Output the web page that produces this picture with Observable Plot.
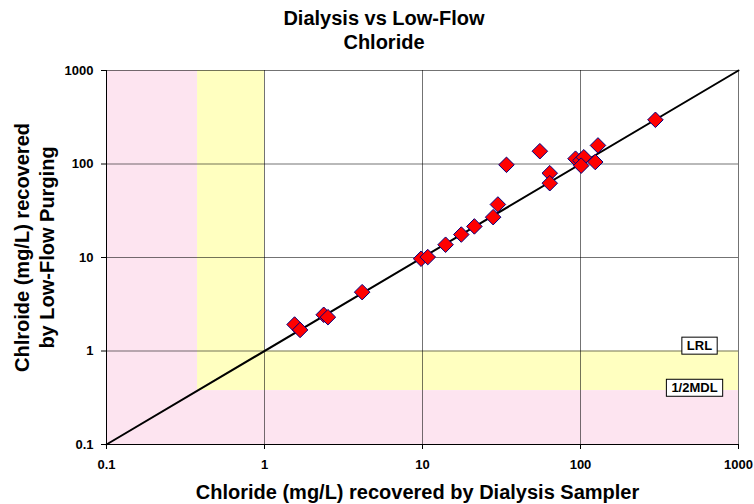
<!DOCTYPE html>
<html>
<head>
<meta charset="utf-8">
<script src="https://cdn.jsdelivr.net/npm/d3@7"></script>
<script src="https://cdn.jsdelivr.net/npm/@observablehq/plot@0.6"></script>
<style>
  body { margin: 0; background: #fff; font-family: "Liberation Sans", Arial, sans-serif; }
  #title { width: 754px; box-sizing: border-box; padding: 6px 0 4px 14px; height: 58px;
           text-align: center; font-weight: bold; font-size: 20px; line-height: 24px; color: #000; }
  #chart svg g[aria-label*="axis"] text { font-size: 13px; font-weight: bold; font-family: "Liberation Sans", Arial, sans-serif; }
</style>
</head>
<body>
<div id="title">Dialysis vs Low-Flow<br>Chloride</div>
<div id="chart"></div>
<script>
// ---- data ----
const dialysis = [1.55, 1.68, 2.37, 2.52, 4.15, 9.8, 10.8, 14.0, 17.6, 21.3, 28.0, 30.0, 34.0, 55.3, 63.9, 63.9, 93, 100, 105, 101, 124, 129, 298];
const lowFlow  = [1.92, 1.68, 2.44, 2.30, 4.26, 9.7, 10.1, 13.7, 17.6, 21.5, 27.0, 36.9, 98, 137, 79.7, 62.3, 114, 109, 118, 96, 105, 158, 297];
const tickValues = [0.1, 1, 10, 100, 1000];
const thresholdNames = ["LRL", "1/2MDL"];
const thresholdValues = [1, 0.377];
const xTitle = "Chloride (mg/L) recovered by Dialysis Sampler";
const yTitle = "Chlroide (mg/L) recovered\nby Low-Flow Purging";

const points = dialysis.map((d, i) => ({x: d, y: lowFlow[i]}));
const dmin = tickValues[0], dmax = tickValues[tickValues.length - 1];
const lrl = thresholdValues[0], half = thresholdValues[1];
const yellowBands = [
  {x1: half, x2: lrl, y1: half, y2: dmax},
  {x1: half, x2: dmax, y1: half, y2: lrl}
];
const pinkBands = [
  {x1: dmin, x2: half, y1: dmin, y2: dmax},
  {x1: dmin, x2: dmax, y1: dmin, y2: half}
];

const fmt = d => String(d);

const plot = Plot.plot({
  width: 754,
  height: 446,
  marginTop: 12,
  marginBottom: 60,
  marginLeft: 106,
  marginRight: 16,
  style: {fontFamily: '"Liberation Sans", Arial, sans-serif', fontSize: "13px", fontWeight: "bold", color: "#000", background: "#fff"},
  x: {type: "log", domain: [dmin, dmax], ticks: tickValues, tickFormat: fmt, tickSize: 5, tickPadding: 10, label: null},
  y: {type: "log", domain: [dmin, dmax], ticks: tickValues, tickFormat: fmt, tickSize: 5, tickPadding: 8, label: null},
  marks: [
    Plot.rect(yellowBands, {x1: "x1", x2: "x2", y1: "y1", y2: "y2", fill: "#ffffc0"}),
    Plot.rect(pinkBands, {x1: "x1", x2: "x2", y1: "y1", y2: "y2", fill: "#fde4f0"}),
    Plot.ruleX(tickValues.slice(1), {stroke: "#000", strokeOpacity: 0.55}),
    Plot.ruleY(tickValues.slice(1), {stroke: "#000", strokeOpacity: 0.55}),
    Plot.ruleX([dmin], {stroke: "#000"}),
    Plot.ruleY([dmin], {stroke: "#000"}),
    Plot.line([dmin, dmax], {x: d => d, y: d => d, stroke: "#000", strokeWidth: 2}),
    Plot.dot(points, {x: "x", y: "y", symbol: "diamond2", r: 7, fill: "#ff0000", stroke: "#000080", strokeWidth: 1}),
    Plot.text([thresholdValues[0]], {y: d => d, text: () => thresholdNames[0], frameAnchor: "right", dx: -39, dy: -5,
      fontSize: 13, fontWeight: "bold", textAnchor: "middle", lineAnchor: "middle", fill: "#000"}),
    Plot.text([thresholdValues[1]], {y: d => d, text: () => thresholdNames[1], frameAnchor: "right", dx: -44, dy: -2.5,
      fontSize: 13, fontWeight: "bold", textAnchor: "middle", lineAnchor: "middle", fill: "#000"}),
    Plot.text([yTitle], {text: d => d, frameAnchor: "left", rotate: -90, dx: -73, dy: -10, fontSize: 20, fontWeight: "bold",
      lineHeight: 1.25, textAnchor: "middle", lineAnchor: "middle", fill: "#000"}),
    Plot.text([xTitle], {text: d => d, frameAnchor: "bottom", dx: -5, dy: 48, fontSize: 20, fontWeight: "bold",
      textAnchor: "middle", lineAnchor: "middle", fill: "#000"})
  ]
});
document.getElementById("chart").appendChild(plot);

// enlarge axis tick labels (in case the axis sets its own font size)
d3.select(plot).selectAll("text").filter(function() {
  return tickValues.map(fmt).includes(this.textContent);
}).style("font-size", "13px").style("font-weight", "bold");

// boxes behind threshold labels
d3.select(plot).selectAll("text").filter(function() {
  return thresholdNames.includes(this.textContent);
}).each(function() {
  const b = this.getBBox();
  const padX = 5, padY = 1;
  const r = document.createElementNS("http://www.w3.org/2000/svg", "rect");
  r.setAttribute("x", b.x - padX);
  r.setAttribute("y", b.y - padY);
  r.setAttribute("width", b.width + 2 * padX);
  r.setAttribute("height", b.height + 2 * padY);
  r.setAttribute("fill", "#fff");
  r.setAttribute("stroke", "#000");
  r.setAttribute("stroke-width", "1");
  const t = this.getAttribute("transform");
  if (t) r.setAttribute("transform", t);
  this.parentNode.insertBefore(r, this);
});
</script>
</body>
</html>
